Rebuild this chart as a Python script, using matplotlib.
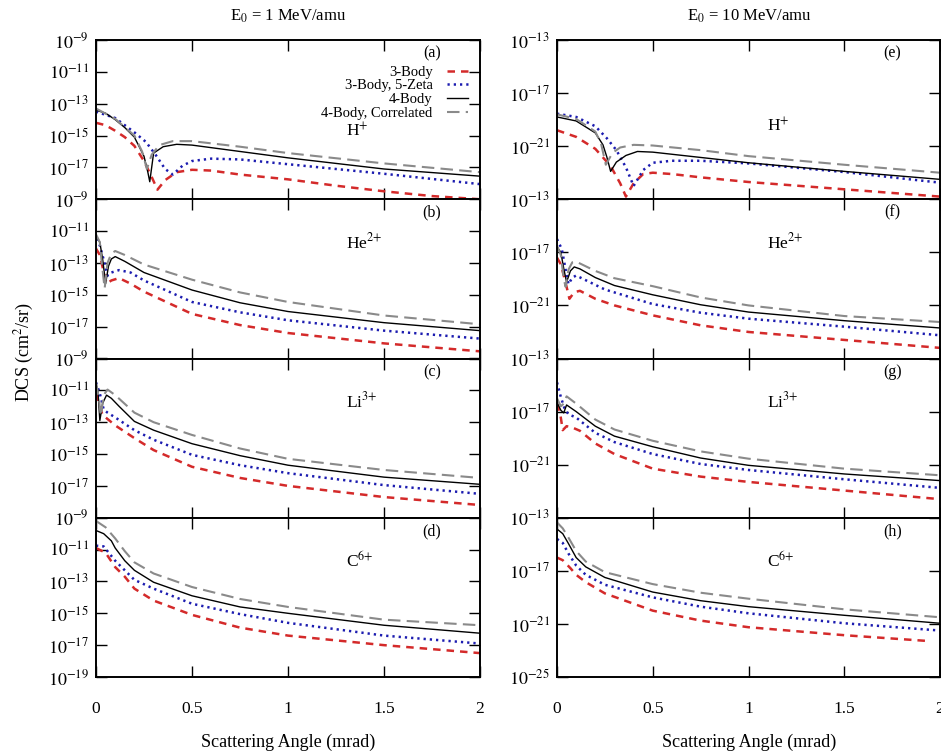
# DCS panels, 1 and 10 MeV/amu, gnuplot-like look
import numpy as np
import matplotlib.pyplot as plt

plt.rcParams['font.family'] = 'Liberation Serif'
plt.rcParams['mathtext.fontset'] = 'stix'

series_names = ["3-Body", "3-Body, 5-Zeta", "4-Body", "4-Body, Correlated"]
ions = ["H$^{+}$", "He$^{2{+}}$", "Li$^{3{+}}$", "C$^{6{+}}$"]
panel_tags = ["(a)", "(b)", "(c)", "(d)", "(e)", "(f)", "(g)", "(h)"]
energies = ["E$_0$ = 1 MeV/amu", "E$_0$ = 10 MeV/amu"]
x_ticks = [0, 0.5, 1, 1.5, 2]
x_ticklabels = ["0", "0.5", "1", "1.5", "2"]
left_exp = [-9, -11, -13, -15, -17, -19]
right_exp = [-13, -17, -21, -25]

# values: x in mrad, y = log10(DCS)
# (a) H+, 1 MeV/amu
a_x_3b = [0, 0.05, 0.1, 0.15, 0.2, 0.25, 0.29, 0.32, 0.36, 0.42, 0.5, 0.6, 0.75, 1, 1.25, 1.5, 1.75, 2]
a_y_3b = [-14.2, -14.35, -14.7, -15.1, -15.65, -16.6, -17.6, -18.4, -17.8, -17.3, -17.15, -17.2, -17.45, -17.75, -18.15, -18.5, -18.8, -19.0]
a_x_5z = [0, 0.1, 0.2, 0.26, 0.31, 0.36, 0.4, 0.45, 0.5, 0.6, 0.75, 1, 1.5, 2]
a_y_5z = [-13.5, -13.9, -14.8, -15.4, -16.2, -17.1, -17.45, -16.9, -16.6, -16.45, -16.5, -16.8, -17.4, -18.05]
a_x_4b = [0, 0.05, 0.1, 0.15, 0.2, 0.25, 0.27, 0.28, 0.3, 0.35, 0.42, 0.5, 0.75, 1, 1.5, 2]
a_y_4b = [-13.4, -13.6, -14.0, -14.5, -15.1, -16.3, -17.3, -17.9, -16.1, -15.7, -15.55, -15.6, -16.0, -16.4, -17.1, -17.55]
a_x_co = [0, 0.1, 0.2, 0.24, 0.265, 0.29, 0.33, 0.4, 0.5, 0.75, 1, 1.5, 2]
a_y_co = [-13.3, -13.95, -15.0, -16.0, -17.1, -16.2, -15.6, -15.35, -15.35, -15.7, -16.1, -16.75, -17.3]

# (b) He2+, 1 MeV/amu
b_x_3b = [0, 0.02, 0.035, 0.055, 0.08, 0.12, 0.18, 0.25, 0.5, 0.75, 1, 1.5, 2]
b_y_3b = [-12.1, -12.5, -13.3, -14.3, -14.1, -13.95, -14.3, -14.8, -16.2, -16.9, -17.4, -18.05, -18.55]
b_x_5z = [0, 0.02, 0.04, 0.06, 0.08, 0.12, 0.18, 0.25, 0.5, 0.75, 1, 1.5, 2]
b_y_5z = [-11.5, -11.9, -12.8, -13.8, -13.6, -13.45, -13.6, -14.1, -15.45, -16.1, -16.6, -17.25, -17.75]
b_x_4b = [0, 0.02, 0.035, 0.05, 0.065, 0.08, 0.1, 0.15, 0.25, 0.5, 0.75, 1, 1.5, 2]
b_y_4b = [-11.3, -11.7, -12.8, -14.3, -13.2, -12.75, -12.6, -12.9, -13.6, -14.7, -15.5, -16.05, -16.75, -17.25]
b_x_co = [0, 0.02, 0.03, 0.045, 0.06, 0.08, 0.1, 0.15, 0.25, 0.5, 0.75, 1, 1.5, 2]
b_y_co = [-11.2, -11.7, -13.0, -14.6, -13.0, -12.4, -12.25, -12.5, -13.1, -14.05, -14.85, -15.45, -16.3, -16.85]

# (c) Li3+, 1 MeV/amu
c_x_3b = [0, 0.02, 0.035, 0.05, 0.1, 0.2, 0.3, 0.5, 0.75, 1, 1.5, 2]
c_y_3b = [-11.2, -12.0, -12.6, -12.7, -13.2, -14.0, -14.75, -15.8, -16.5, -17.0, -17.7, -18.2]
c_x_5z = [0, 0.02, 0.04, 0.06, 0.1, 0.2, 0.3, 0.5, 0.75, 1, 1.5, 2]
c_y_5z = [-10.5, -11.2, -12.2, -12.4, -12.7, -13.5, -14.1, -15.05, -15.7, -16.2, -16.95, -17.5]
c_x_4b = [0, 0.01, 0.02, 0.035, 0.055, 0.08, 0.12, 0.2, 0.3, 0.5, 0.75, 1, 1.5, 2]
c_y_4b = [-10.6, -11.0, -12.9, -11.8, -11.3, -11.5, -12.0, -12.95, -13.5, -14.35, -15.1, -15.7, -16.45, -16.9]
c_x_co = [0, 0.015, 0.025, 0.04, 0.06, 0.1, 0.2, 0.3, 0.5, 0.75, 1, 1.5, 2]
c_y_co = [-10.5, -11.5, -12.6, -11.3, -10.95, -11.3, -12.4, -13.0, -13.8, -14.65, -15.3, -16.0, -16.5]

# (d) C6+, 1 MeV/amu
d_x_3b = [0, 0.05, 0.1, 0.15, 0.2, 0.3, 0.5, 0.75, 1, 1.5, 2]
d_y_3b = [-10.9, -11.2, -12.1, -12.7, -13.45, -14.2, -15.1, -15.9, -16.4, -17.0, -17.5]
d_x_5z = [0, 0.04, 0.1, 0.15, 0.2, 0.3, 0.5, 0.75, 1, 1.5, 2]
d_y_5z = [-10.75, -10.8, -11.7, -12.3, -12.9, -13.45, -14.4, -15.05, -15.6, -16.4, -16.9]
d_x_4b = [0, 0.04, 0.08, 0.1, 0.15, 0.2, 0.3, 0.5, 0.75, 1, 1.5, 2]
d_y_4b = [-9.8, -10.0, -10.45, -10.9, -11.7, -12.3, -13.05, -13.9, -14.6, -15.0, -15.75, -16.25]
d_x_co = [0, 0.05, 0.1, 0.15, 0.2, 0.3, 0.5, 0.75, 1, 1.5, 2]
d_y_co = [-9.2, -9.6, -10.3, -11.1, -11.8, -12.5, -13.35, -14.1, -14.6, -15.4, -15.75]

# (e) H+, 10 MeV/amu
e_x_3b = [0, 0.1, 0.2, 0.28, 0.33, 0.36, 0.4, 0.45, 0.5, 0.6, 0.75, 1, 1.5, 2]
e_y_3b = [-19.8, -20.3, -21.2, -22.5, -23.8, -24.8, -23.8, -23.1, -23.0, -23.1, -23.35, -23.7, -24.25, -24.8]
e_x_5z = [0, 0.1, 0.2, 0.26, 0.31, 0.36, 0.4, 0.45, 0.5, 0.6, 0.75, 1, 1.5, 2]
e_y_5z = [-18.55, -18.8, -19.5, -20.4, -21.3, -22.6, -24.0, -22.8, -22.25, -22.1, -22.1, -22.3, -22.95, -23.75]
e_x_4b = [0, 0.1, 0.2, 0.24, 0.26, 0.28, 0.31, 0.36, 0.42, 0.5, 0.75, 1, 1.5, 2]
e_y_4b = [-18.8, -19.1, -20.0, -20.9, -21.8, -22.9, -22.2, -21.7, -21.4, -21.45, -21.85, -22.25, -22.9, -23.5]
e_x_co = [0, 0.1, 0.2, 0.23, 0.255, 0.29, 0.33, 0.4, 0.5, 0.75, 1, 1.5, 2]
e_y_co = [-18.6, -18.95, -19.9, -20.8, -22.4, -21.5, -21.1, -20.9, -20.95, -21.3, -21.75, -22.4, -23.0]

# (f) He2+, 10 MeV/amu
f_x_3b = [0, 0.02, 0.045, 0.065, 0.09, 0.12, 0.2, 0.3, 0.5, 0.75, 1, 1.5, 2]
f_y_3b = [-17.4, -17.9, -19.3, -20.5, -20.0, -19.9, -20.5, -21.0, -21.75, -22.5, -23.0, -23.6, -24.2]
f_x_5z = [0, 0.025, 0.045, 0.06, 0.08, 0.1, 0.15, 0.25, 0.5, 0.75, 1, 1.5, 2]
f_y_5z = [-16.0, -16.75, -18.3, -19.4, -18.9, -18.75, -19.1, -19.8, -20.9, -21.55, -22.0, -22.6, -23.25]
f_x_4b = [0, 0.02, 0.035, 0.05, 0.07, 0.09, 0.12, 0.2, 0.3, 0.5, 0.75, 1, 1.5, 2]
f_y_4b = [-16.6, -17.0, -18.2, -19.25, -18.4, -18.1, -18.25, -18.9, -19.5, -20.2, -20.95, -21.5, -22.15, -22.7]
f_x_co = [0, 0.02, 0.035, 0.045, 0.06, 0.08, 0.1, 0.2, 0.3, 0.5, 0.75, 1, 1.5, 2]
f_y_co = [-16.5, -17.2, -19.0, -19.6, -18.3, -17.75, -17.7, -18.4, -18.95, -19.55, -20.4, -21.0, -21.8, -22.25]

# (g) Li3+, 10 MeV/amu
g_x_3b = [0, 0.015, 0.03, 0.05, 0.08, 0.12, 0.2, 0.3, 0.5, 0.75, 1, 1.5, 2]
g_y_3b = [-16.4, -17.0, -18.4, -18.1, -18.2, -18.45, -19.4, -20.2, -21.3, -21.9, -22.3, -22.95, -23.6]
g_x_5z = [0, 0.02, 0.04, 0.06, 0.1, 0.2, 0.3, 0.5, 0.75, 1, 1.5, 2]
g_y_5z = [-14.8, -15.9, -16.8, -17.2, -17.45, -18.6, -19.3, -20.2, -20.95, -21.4, -22.1, -22.75]
g_x_4b = [0, 0.02, 0.035, 0.05, 0.1, 0.2, 0.3, 0.5, 0.75, 1, 1.5, 2]
g_y_4b = [-16.3, -16.9, -17.1, -16.5, -17.0, -18.1, -18.85, -19.65, -20.5, -21.05, -21.7, -22.2]
g_x_co = [0, 0.02, 0.035, 0.05, 0.1, 0.2, 0.3, 0.5, 0.75, 1, 1.5, 2]
g_y_co = [-16.0, -16.6, -16.4, -15.85, -16.4, -17.6, -18.35, -19.2, -20.0, -20.55, -21.3, -21.8]

# (h) C6+, 10 MeV/amu
h_x_3b = [0, 0.03, 0.07, 0.1, 0.15, 0.25, 0.5, 0.75, 1, 1.5, 1.95]
h_y_3b = [-16.0, -16.2, -16.8, -17.3, -17.85, -18.7, -20.0, -20.75, -21.25, -21.85, -22.3]
h_x_5z = [0, 0.03, 0.06, 0.1, 0.15, 0.25, 0.5, 0.75, 1, 1.5, 2]
h_y_5z = [-14.6, -14.9, -15.7, -16.6, -17.3, -18.05, -19.0, -19.7, -20.2, -20.95, -21.5]
h_x_4b = [0, 0.03, 0.06, 0.1, 0.15, 0.25, 0.5, 0.75, 1, 1.5, 2]
h_y_4b = [-13.85, -14.2, -14.95, -16.0, -16.7, -17.5, -18.6, -19.25, -19.7, -20.35, -20.95]
h_x_co = [0, 0.03, 0.06, 0.1, 0.15, 0.25, 0.5, 0.75, 1, 1.5, 2]
h_y_co = [-13.35, -13.8, -14.5, -15.5, -16.3, -17.1, -18.0, -18.65, -19.1, -19.9, -20.5]

panels = [
    [(a_x_3b, a_y_3b), (a_x_5z, a_y_5z), (a_x_4b, a_y_4b), (a_x_co, a_y_co)],
    [(b_x_3b, b_y_3b), (b_x_5z, b_y_5z), (b_x_4b, b_y_4b), (b_x_co, b_y_co)],
    [(c_x_3b, c_y_3b), (c_x_5z, c_y_5z), (c_x_4b, c_y_4b), (c_x_co, c_y_co)],
    [(d_x_3b, d_y_3b), (d_x_5z, d_y_5z), (d_x_4b, d_y_4b), (d_x_co, d_y_co)],
    [(e_x_3b, e_y_3b), (e_x_5z, e_y_5z), (e_x_4b, e_y_4b), (e_x_co, e_y_co)],
    [(f_x_3b, f_y_3b), (f_x_5z, f_y_5z), (f_x_4b, f_y_4b), (f_x_co, f_y_co)],
    [(g_x_3b, g_y_3b), (g_x_5z, g_y_5z), (g_x_4b, g_y_4b), (g_x_co, g_y_co)],
    [(h_x_3b, h_y_3b), (h_x_5z, h_y_5z), (h_x_4b, h_y_4b), (h_x_co, h_y_co)],
]

styles = [
    dict(color="#d42a2a", lw=1.8, ls=(0, (3, 2.4))),
    dict(color="#1c1cb0", lw=1.8, ls=(0, (0.9, 1.6))),
    dict(color="black", lw=1.0, ls="-"),
    dict(color="#8a8a8a", lw=1.5, ls=(0, (6, 3))),
]

fig = plt.figure(figsize=(9.41, 7.51), dpi=100)
W, H = 941.0, 751.0
col_left = [96 / W, 557 / W]
col_width = [384 / W, 383 / W]
ph = 159.25 / H

for col in range(2):
    exps = left_exp if col == 0 else right_exp
    for row in range(4):
        k = col * 4 + row
        bottom = 1 - (40 + 159.25 * (row + 1)) / H
        ax = fig.add_axes([col_left[col], bottom, col_width[col], ph])
        for (xs, ys), st, name in zip(panels[k], styles, series_names):
            ax.plot(xs, 10 ** np.array(ys), label=name, **st)
        ax.set_yscale("log")
        ax.set_xlim(0, 2)
        ax.set_ylim(10.0 ** exps[-1], 10.0 ** exps[0])
        ax.minorticks_off()
        ax.set_yticks([10.0 ** e for e in exps])
        labs = ["$10^{%d}$" % e for e in exps]
        if row < 3:
            labs[-1] = ""
        ax.set_yticklabels(labs)
        ax.set_xticks(x_ticks)
        ax.set_xticklabels(x_ticklabels if row == 3 else [""] * 5)
        ax.tick_params(direction="in", length=8, width=1.0, top=True, right=True,
                       labelsize=13)
        ax.tick_params(axis="y", pad=5)
        ax.tick_params(axis="x", pad=17, labelsize=12.5)
        for sp in ax.spines.values():
            sp.set_linewidth(1.4)
        ax.text(0.875, 0.915, panel_tags[k], transform=ax.transAxes,
                ha="center", va="center", fontsize=11.5)
        ion_x = 0.652 if col == 0 else 0.548
        if row == 0:
            ion_y = 0.425 if col == 0 else 0.46
        else:
            ion_y = 0.73
        ax.text(ion_x, ion_y, ions[row], transform=ax.transAxes,
                ha="left", va="center", fontsize=12.5)
        if k == 0:
            ax.legend(loc="upper right", bbox_to_anchor=(0.968, 0.84), frameon=False,
                      markerfirst=False, fontsize=10.5, handlelength=1.4,
                      handletextpad=1.0, labelspacing=0.03, borderpad=0,
                      borderaxespad=0)

fig.text(288 / W, 1 - 16 / H, energies[0], ha="center", va="center", fontsize=12)
fig.text(749 / W, 1 - 16 / H, energies[1], ha="center", va="center", fontsize=12)
fig.text(288 / W, 1 - 742 / H, "Scattering Angle (mrad)", ha="center", va="center", fontsize=13)
fig.text(749 / W, 1 - 742 / H, "Scattering Angle (mrad)", ha="center", va="center", fontsize=13)
fig.text(24 / W, 1 - 352 / H, "DCS (cm$^{2}$/sr)", rotation=90, ha="center", va="center",
         fontsize=13)

fig.savefig("out.png", dpi=100)
